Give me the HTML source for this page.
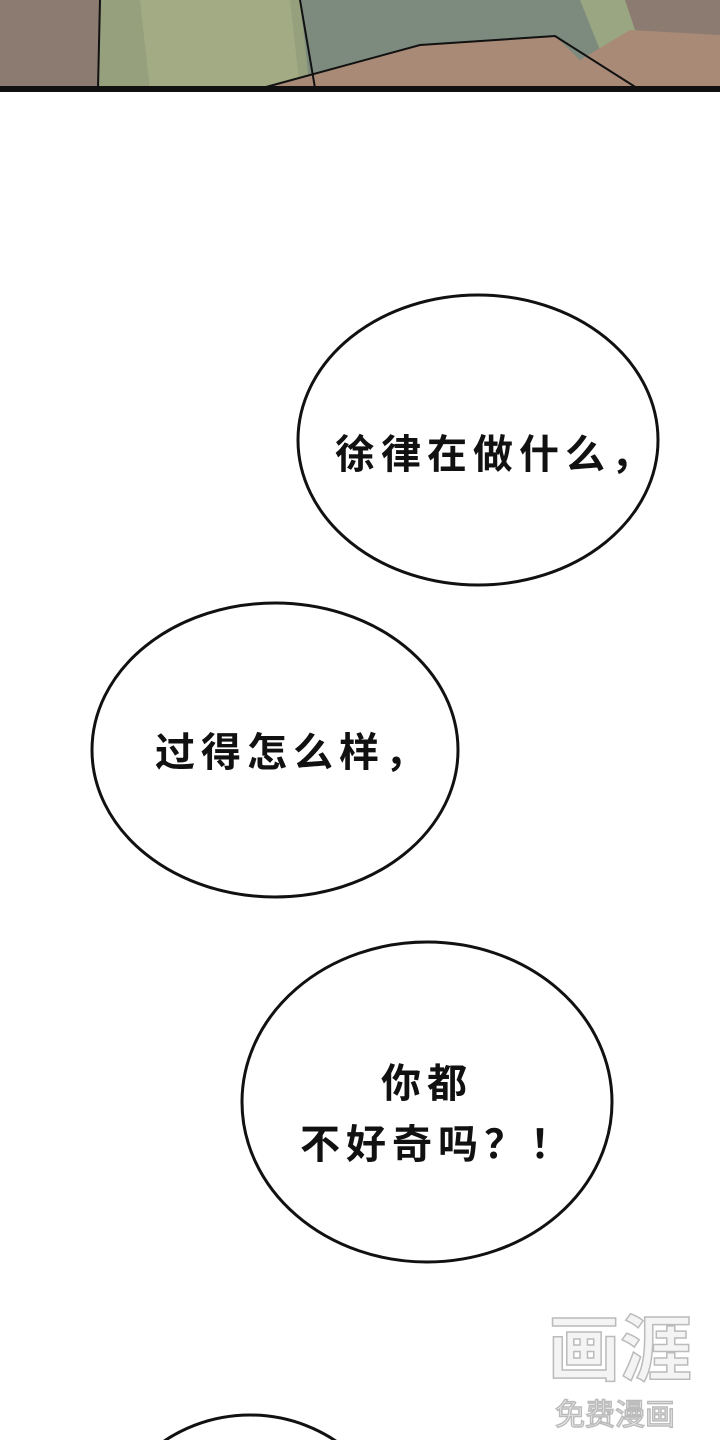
<!DOCTYPE html>
<html><head><meta charset="utf-8"><style>
html,body{margin:0;padding:0;background:#fff;width:720px;height:1440px;overflow:hidden}
</style></head><body>
<svg width="720" height="1440" viewBox="0 0 720 1440" xmlns="http://www.w3.org/2000/svg" style="display:block">
<rect x="0" y="0" width="720" height="90" fill="#8c7b70"/>
<polygon points="100,0 300,0 315,90 98,90" fill="#97a07d"/>
<polygon points="140,0 290,0 300,90 150,90" fill="#a3ab84"/>
<polygon points="300,0 625,0 600,90 310,90" fill="#7d8b7e"/>
<polygon points="580,0 625,0 640,45 600,50" fill="#9aa682"/>
<polygon points="255,90 420,45 555,36 580,60 630,30 720,35 720,90" fill="#a88a77"/>
<polyline points="255,90 420,45 555,36 640,90" fill="none" stroke="#111" stroke-width="2"/>
<line x1="100" y1="0" x2="98" y2="88" stroke="#111" stroke-width="2"/>
<line x1="300" y1="0" x2="315" y2="88" stroke="#111" stroke-width="2"/>
<rect x="0" y="86" width="720" height="6" fill="#111"/>
<g fill="#fff" stroke="#111" stroke-width="3">
<ellipse cx="478" cy="440" rx="180" ry="145"/>
<ellipse cx="275" cy="750" rx="183" ry="147"/>
<ellipse cx="427" cy="1102" rx="185" ry="160"/>
<ellipse cx="250" cy="1560" rx="150" ry="145"/>
</g>
<g font-family="'Liberation Sans','Noto Sans CJK SC',sans-serif" font-size="40" font-weight="bold" fill="#111" letter-spacing="6">
<text x="335" y="468">徐律在做什么，</text>
<text x="155" y="766">过得怎么样，</text>
<text x="381" y="1097">你都</text>
<text x="300" y="1158">不好奇吗？！</text>
</g>
<g font-family="'Noto Sans CJK SC',sans-serif" fill="#f4f4f4" stroke="#bbb" stroke-width="1.5">
<text x="548" y="1375" font-size="72" font-weight="bold">画涯</text>
<text x="555" y="1425" font-size="30">免费漫画</text>
</g>
</svg>
</body></html>
